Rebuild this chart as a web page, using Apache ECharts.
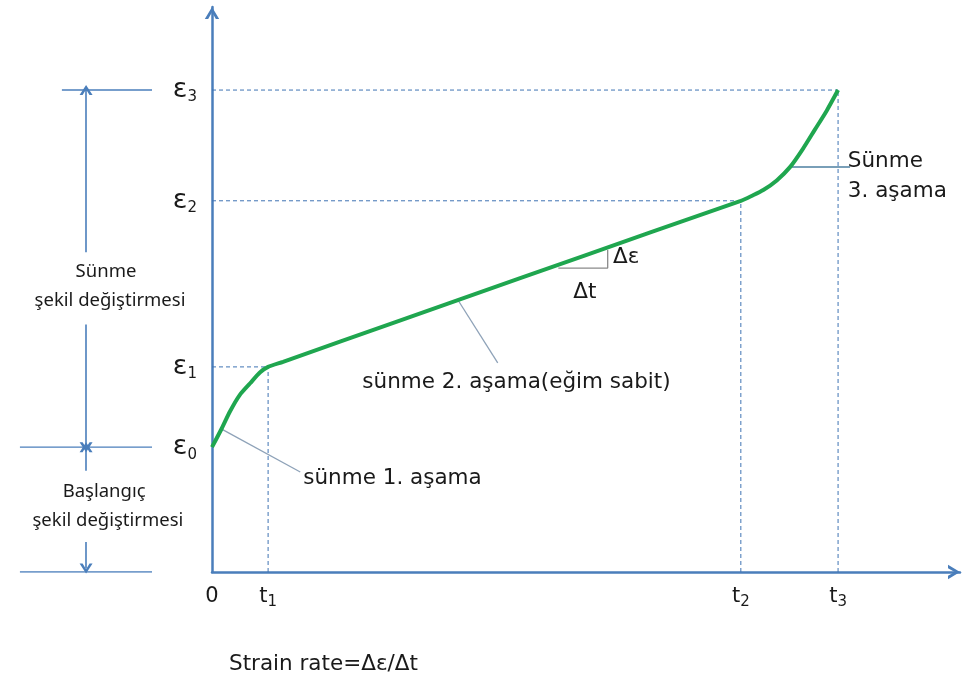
<!DOCTYPE html>
<html>
<head>
<meta charset="utf-8">
<title>Sünme eğrisi</title>
<script src="https://cdn.jsdelivr.net/npm/echarts@6/dist/echarts.min.js"></script>
<style>
  html, body { margin: 0; padding: 0; background: #fff; }
  #chart { width: 962px; height: 678px; }
</style>
</head>
<body>
<div id="chart"></div>
<script>
// eksen değerleri (zaman ve şekil değiştirme, 0-100 ölçek)
var tickT = [0, 7.5, 70.7, 83.7];
var tickTLabels = ['0', 't1', 't2', 't3'];
var tickE = [22.1, 36.3, 65.7, 85.3];
var tickELabels = ['ε0', 'ε1', 'ε2', 'ε3'];

// sünme eğrisi (resimden okunan noktalar)
var curveT = [0, 1.3, 2.4, 3.7, 5.1, 6.4, 7.5, 9.5, 25.1, 41.2, 58.6, 70.7, 72.2, 73.7, 75.5, 77.3, 79.0, 80.6, 82.2, 83.7];
var curveE = [22.1, 25.4, 28.4, 31.3, 33.4, 35.3, 36.3, 37.2, 44.5, 52.0, 60.1, 65.7, 66.6, 67.6, 69.3, 71.7, 74.9, 78.3, 81.7, 85.3];

// açıklama çizgileri
var pointer1 = [[1.3, 25.3], [11.8, 17.7]];
var pointer2 = [[32.9, 48.1], [38.2, 37.0]];
var pointer3 = [[77.3, 71.7], [85.3, 71.7]];
var slopeTri = [[46.3, 53.8], [52.9, 53.8], [52.9, 57.0]];

// açıklama yazıları [x, y, metin]
var notes = [
    [12.2, 16.6, 'sünme 1. aşama'],
    [20.1, 33.5, 'sünme 2. aşama(eğim sabit)'],
    [85.0, 72.7, 'Sünme'],
    [85.0, 67.3, '3. aşama'],
    [53.6, 55.6, 'Δε'],
    [48.3, 49.4, 'Δt']
];

// sol taraftaki ölçü çizgileri (sol grid, 0-100 ölçek)
var leftLines = [
    [[29.2, 85.3], [71.7, 85.3]],
    [[9.4, 22.1], [71.7, 22.1]],
    [[9.4, 0], [71.7, 0]]
];
var leftArrows = [
    [[40.6, 56.6], [40.6, 85.3]],
    [[40.6, 43.8], [40.6, 22.1]],
    [[40.6, 17.9], [40.6, 22.1]],
    [[40.6, 5.3], [40.6, 0.6]]
];
var leftNotes = [
    [50.0, 53.1, 'Sünme'],
    [51.9, 48.0, 'şekil değiştirmesi'],
    [49.1, 14.2, 'Başlangıç'],
    [50.9, 9.0, 'şekil değiştirmesi']
];

var axisColor = '#4a7ebb';
var dashColor = '#3f73b3';
var chevron = 'path://M0,10 L6,0 L12,10 L9.2,10 L6,4.4 L2.8,10 Z';
var font = 'DejaVu Sans';
var textColor = '#1a1a1a';

function subLabel(list, value) {
    for (var i = 0; i < list.length; i++) {
        if (Math.abs(list[i] - value) < 1e-6) return i;
    }
    return -1;
}

var series = [];

// kesikli yardımcı çizgiler
for (var i = 1; i < tickT.length; i++) {
    series.push({
        type: 'line', silent: true, symbol: 'none',
        data: [[0, tickE[i]], [tickT[i], tickE[i]]],
        lineStyle: {color: dashColor, width: 1, type: [4, 3]}
    });
    series.push({
        type: 'line', silent: true, symbol: 'none',
        data: [[tickT[i], 0], [tickT[i], tickE[i]]],
        lineStyle: {color: dashColor, width: 1, type: [4, 3]}
    });
}

series.push({
    type: 'line', silent: true, symbol: 'none', data: pointer1,
    lineStyle: {color: '#8ea2b8', width: 1.3}
});
series.push({
    type: 'line', silent: true, symbol: 'none', data: pointer2,
    lineStyle: {color: '#8ea2b8', width: 1.3}
});
series.push({
    type: 'line', silent: true, symbol: 'none', data: pointer3,
    lineStyle: {color: '#4d7fa0', width: 1.5}
});
series.push({
    type: 'line', silent: true, symbol: 'none', data: slopeTri,
    lineStyle: {color: '#8a8a8a', width: 1.3}
});

// eğri
series.push({
    type: 'line', silent: true, symbol: 'none', smooth: 0.25, z: 5,
    data: curveT.map(function (t, k) { return [t, curveE[k]]; }),
    lineStyle: {color: '#1fa64f', width: 4}
});

// yazılar
series.push({
    type: 'scatter', silent: true, symbolSize: 0,
    itemStyle: {opacity: 1},
    data: notes.map(function (n) { return {name: n[2], value: [n[0], n[1]]}; }),
    label: {
        show: true, position: 'right', distance: 0,
        formatter: function (p) { return p.name; },
        color: textColor, fontFamily: font, fontSize: 21.5
    }
});

// sol grid
leftLines.forEach(function (seg) {
    series.push({
        type: 'line', silent: true, symbol: 'none', xAxisIndex: 1, yAxisIndex: 1,
        data: seg, lineStyle: {color: axisColor, width: 1.4}
    });
});
series.push({
    type: 'line', silent: true, xAxisIndex: 1, yAxisIndex: 1, data: [],
    markLine: {
        silent: true, symbol: ['none', chevron], symbolSize: [13, 10],
        label: {show: false},
        lineStyle: {color: axisColor, width: 1.6, type: 'solid'},
        data: leftArrows.map(function (a) {
            return [{coord: a[0]}, {coord: a[1]}];
        })
    }
});
series.push({
    type: 'scatter', silent: true, symbolSize: 0, xAxisIndex: 1, yAxisIndex: 1,
    itemStyle: {opacity: 1},
    data: leftNotes.map(function (n) { return {name: n[2], value: [n[0], n[1]]}; }),
    label: {
        show: true, position: 'inside',
        formatter: function (p) { return p.name; },
        color: textColor, fontFamily: 'Noto Sans', fontSize: 18.5
    }
});

var option = {
    animation: false,
    backgroundColor: '#fff',
    title: {
        text: 'Strain rate=Δε/Δt',
        left: 224, top: 648,
        textStyle: {fontFamily: font, fontSize: 21.5, fontWeight: 'normal', color: textColor}
    },
    grid: [
        {left: 212, right: 2, top: 7, bottom: 106, outerBoundsMode: 'none'},
        {left: 0, width: 212, top: 7, bottom: 106, outerBoundsMode: 'none'}
    ],
    xAxis: [{
        type: 'value', min: 0, max: 100,
        splitLine: {show: false},
        axisTick: {show: false},
        axisLine: {
            lineStyle: {color: axisColor, width: 2.5},
            symbol: ['none', chevron], symbolSize: [15, 12], symbolOffset: [0, -6]
        },
        axisLabel: {
            customValues: tickT, margin: 12,
            formatter: function (v) {
                var s = tickTLabels[subLabel(tickT, v)] || '';
                return s.length > 1 ? '{e|' + s[0] + '}{s|' + s.slice(1) + '}' : '{e|' + s + '}';
            },
            rich: {
                e: {fontFamily: font, fontSize: 21, lineHeight: 26, color: textColor},
                s: {fontFamily: font, fontSize: 15, lineHeight: 16, verticalAlign: 'bottom', color: textColor}
            }
        }
    }, {
        type: 'value', min: 0, max: 100, gridIndex: 1, show: false
    }],
    yAxis: [{
        type: 'value', min: 0, max: 100,
        splitLine: {show: false},
        axisTick: {show: false},
        axisLine: {
            lineStyle: {color: axisColor, width: 2.5},
            symbol: ['none', chevron], symbolSize: [15, 12], symbolOffset: [0, -6]
        },
        axisLabel: {
            customValues: tickE, margin: 15,
            formatter: function (v) {
                var s = tickELabels[subLabel(tickE, v)] || '';
                return '{e|' + s[0] + '}{s|' + s.slice(1) + '}';
            },
            rich: {
                e: {fontFamily: font, fontSize: 27, lineHeight: 30, color: textColor},
                s: {fontFamily: font, fontSize: 15, lineHeight: 16, verticalAlign: 'bottom', color: textColor}
            }
        }
    }, {
        type: 'value', min: 0, max: 100, gridIndex: 1, show: false
    }],
    series: series
};

var myChart = echarts.init(document.getElementById('chart'));
myChart.setOption(option);
</script>
</body>
</html>
